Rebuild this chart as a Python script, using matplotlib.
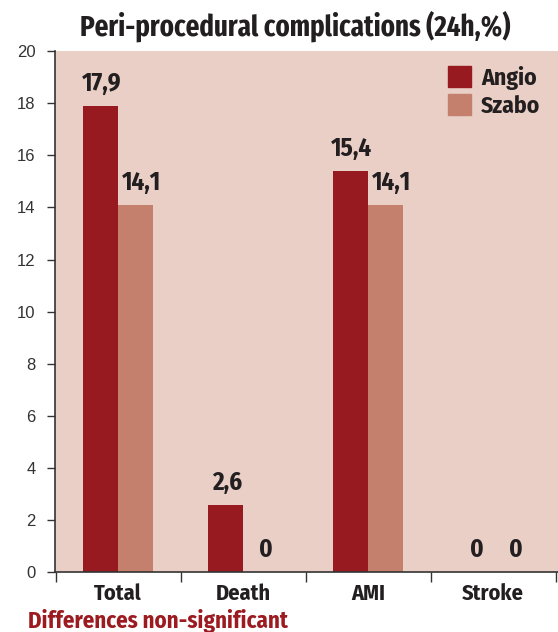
import numpy as np
import matplotlib.pyplot as plt
from matplotlib.patches import Patch

categories = ['Total', 'Death', 'AMI', 'Stroke']
angio = [17.9, 2.6, 15.4, 0]
szabo = [14.1, 0, 14.1, 0]
angio_labels = ['17,9', '2,6', '15,4', '0']
szabo_labels = ['14,1', '0', '14,1', '0']
yticks = [0, 2, 4, 6, 8, 10, 12, 14, 16, 18, 20]

plt.rcParams['font.family'] = ['Fira Sans Condensed', 'DejaVu Sans']
num_font = ['Liberation Sans', 'DejaVu Sans']
title_font = ['Fira Sans Extra Condensed', 'Fira Sans Condensed', 'DejaVu Sans']

c_angio = '#971a20'
c_szabo = '#c4806d'
c_bg = '#e9cfc6'
c_text = '#231f20'

fig = plt.figure(figsize=(5.58, 6.32), dpi=100)
ax = fig.add_axes([0.0986, 0.0945, 0.9014, 0.8248])
ax.set_facecolor(c_bg)

x = np.arange(len(categories))
w = 0.28
ax.bar(x - w / 2, angio, w, color=c_angio, label='Angio')
ax.bar(x + w / 2, szabo, w, color=c_szabo, label='Szabo')

for xi, v, s in zip(x, angio, angio_labels):
    ax.annotate(s, (xi - w / 2, v), xytext=(1, 7), textcoords='offset points',
                ha='center', va='bottom', fontsize=18, fontweight='bold', color=c_text)
for xi, v, s in zip(x, szabo, szabo_labels):
    ax.annotate(s, (xi + w / 2, v), xytext=(4, 7), textcoords='offset points',
                ha='center', va='bottom', fontsize=18, fontweight='bold', color=c_text)

ax.set_xlim(-0.504, 3.52)
ax.set_ylim(0, 20)
ax.set_yticks(yticks)
ax.set_yticklabels([str(t) for t in yticks], family=num_font)
ax.tick_params(axis='y', length=6, width=1, color='#333333', labelsize=12,
               labelcolor='#333333', pad=8)

# boundaries as ticks, names at the centers
ax.set_xticks(np.arange(len(categories) + 1) - 0.5)
ax.set_xticklabels([])
ax.tick_params(axis='x', which='major', length=7, width=1, color='#333333')
ax.set_xticks(x, minor=True)
ax.set_xticklabels(categories, minor=True, fontsize=16, fontweight='bold', color=c_text)
ax.tick_params(axis='x', which='minor', length=0, pad=8)

for side in ['top', 'right']:
    ax.spines[side].set_visible(False)
for side in ['left', 'bottom']:
    ax.spines[side].set_color('#333333')
    ax.spines[side].set_linewidth(1.2)

handles = [Patch(color=c_angio), Patch(color=c_szabo)]
leg = ax.legend(handles, ['Angio', 'Szabo'], loc='upper left', bbox_to_anchor=(0.781, 0.972),
                frameon=False, prop={'size': 17, 'weight': 'bold'}, borderpad=0, borderaxespad=0,
                handlelength=1.0, handleheight=1.0, handletextpad=0.4, labelspacing=0.2)
for t in leg.get_texts():
    t.set_color(c_text)

fig.text(0.529, 0.958, 'Peri-procedural complications (24h,%)', ha='center', va='center',
         fontsize=21, fontweight='bold', color=c_text, family=title_font)
fig.text(0.05, 0.007, 'Differences non-significant', ha='left', va='baseline',
         fontsize=16.5, fontweight='bold', color='#9b1b20')

fig.savefig('out.png', dpi=100)
